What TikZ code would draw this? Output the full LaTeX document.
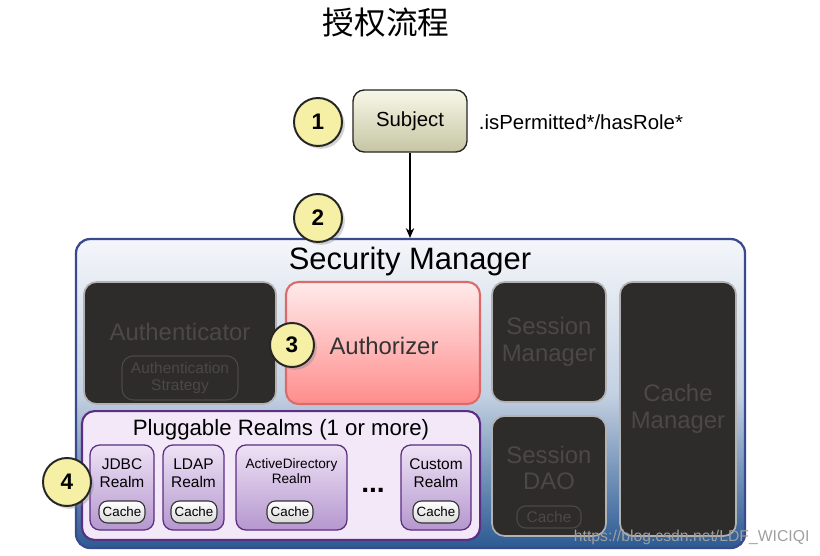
\documentclass[tikz,border=0pt]{standalone}
\usepackage{fontspec}
\setmainfont{Liberation Sans}
\newfontfamily\cjk{Noto Sans CJK SC}
\usetikzlibrary{positioning, shadows, arrows.meta}

\definecolor{smborder}{HTML}{3A4A8E}
\definecolor{smtop}{HTML}{F4F6FA}
\definecolor{smmid}{HTML}{C4D1E2}
\definecolor{smbot}{HTML}{2B5A92}
\definecolor{darkbox}{HTML}{2E2B2B}
\definecolor{dimtext}{HTML}{4C4848}
\definecolor{stepfill}{HTML}{F6F0A6}
\definecolor{realmborder}{HTML}{5B2D83}
\definecolor{realmback}{HTML}{F3E8F8}
\definecolor{realmtop}{HTML}{EEE2F5}
\definecolor{realmbot}{HTML}{B597CF}
\definecolor{azborder}{HTML}{DD6A6A}

\tikzset{
  stepnum/.style={circle, draw=black!85, line width=1.4pt, fill=stepfill,
    minimum size=1.2cm, inner sep=0pt, font=\fontsize{16}{16}\selectfont\bfseries,
    drop shadow={shadow xshift=2pt, shadow yshift=-2pt, opacity=0.35}},
  darkpart/.style={rounded corners=9pt, fill=darkbox, draw=gray!60, line width=1.2pt,
    text=dimtext, font=\fontsize{17}{19}\selectfont, align=center},
  realmbox/.style={rounded corners=7pt, draw=realmborder, line width=0.9pt,
    top color=realmtop, bottom color=realmbot, minimum height=2.125cm},
  cachepill/.style={rounded corners=6pt, draw=black!80, line width=0.8pt,
    top color=white, bottom color=gray!30, minimum width=1.15cm, minimum height=0.55cm,
    inner sep=0pt, font=\fontsize{9.5}{10}\selectfont},
  realmtext/.style={font=\fontsize{11}{12.5}\selectfont, align=center}
}

\begin{document}
\begin{tikzpicture}[x=0.025cm, y=-0.025cm]
  \useasboundingbox (0,0) rectangle (820,556);

  % title
  \node (title) at (386,23) {\cjk\fontsize{22.5}{22.5}\selectfont 授权流程};

  % subject and call
  \node[rounded corners=8pt, draw=black!85, line width=1pt, top color=white!60!olive!15,
    bottom color=olive!30!gray!45, minimum width=2.85cm, minimum height=1.55cm,
    font=\fontsize{14.5}{14.5}\selectfont] (subject) at (410,121) {Subject};
  \node[anchor=west, font=\fontsize{14.5}{14.5}\selectfont] (call) at (474,122) {.isPermitted*/hasRole*};
  \node[stepnum] (s1) at (318,122) {1};

  % security manager
  \node[rounded corners=10pt, draw=smborder, line width=1.6pt, top color=smtop,
    bottom color=smbot, middle color=smmid, minimum width=16.72cm, minimum height=7.72cm]
    (sm) at (410.5,393.5) {};
  \node[font=\fontsize{22}{22}\selectfont] (smtitle) at (410,262) {Security Manager};
  \node[stepnum] (s2) at (318,218) {2};

  \path[-{Stealth[length=7pt, width=6pt]}, line width=0.8pt]
    (subject) edge (sm.north -| subject);

  % components
  \node[darkpart, minimum width=4.8cm, minimum height=3.05cm] (authc) at (180,343) {};
  \node[text=dimtext, font=\fontsize{17}{17}\selectfont] (authctxt) at (180,332) {Authenticator};
  \node[rounded corners=8pt, draw=dimtext, line width=0.8pt, text=dimtext,
    minimum width=2.9cm, minimum height=1.1cm, align=center,
    font=\fontsize{11}{12}\selectfont] (strategy) at (180,378) {Authentication\\Strategy};

  \node[rounded corners=9pt, draw=azborder, line width=1.5pt, top color=red!8,
    bottom color=red!45!white, minimum width=4.85cm, minimum height=3.05cm] (authz) at (383,343) {};
  \node[font=\fontsize{17}{17}\selectfont, text=black!80] (authztxt) at (384,346) {Authorizer};
  \node[stepnum, minimum size=1.1cm] (s3) at (292,345) {3};

  \node[darkpart, minimum width=2.85cm, minimum height=3cm] (sessmgr) at (549,342) {Session\\Manager};
  \node[darkpart, minimum width=2.85cm, minimum height=3cm] (sessdao) at (549,476) {};
  \node[text=dimtext, font=\fontsize{17}{19}\selectfont, align=center] (daotxt) at (549,468) {Session\\DAO};
  \node[rounded corners=6pt, draw=dimtext, line width=0.8pt, text=dimtext,
    minimum width=1.6cm, minimum height=0.55cm, inner sep=0pt,
    font=\fontsize{11}{11}\selectfont] (daocache) at (549,517) {Cache};
  \node[darkpart, minimum width=2.9cm, minimum height=6.35cm] (cachemgr) at (678,409) {Cache\\Manager};

  % realms
  \node[rounded corners=9pt, draw=realmborder, line width=1.5pt, fill=realmback,
    minimum width=9.95cm, minimum height=3.22cm] (realms) at (281,475.5) {};
  \node[font=\fontsize{15.8}{15.8}\selectfont] (realmstitle) at (281,430) {Pluggable Realms (1 or more)};

  \node[realmbox, minimum width=1.6cm] (jdbc) at (122,487.5) {};
  \node[realmbox, minimum width=1.52cm] (ldap) at (193.5,487.5) {};
  \node[realmbox, minimum width=2.77cm] (ad) at (291.5,487.5) {};
  \node[realmbox, minimum width=1.75cm] (custom) at (436,487.5) {};

  \node[realmtext] (jdbctxt) at (122,473) {JDBC\\Realm};
  \node[realmtext] (ldaptxt) at (193.5,473) {LDAP\\Realm};
  \node[realmtext, font=\fontsize{9.7}{11}\selectfont] (adtxt) at (291.5,471) {ActiveDirectory\\Realm};
  \node[realmtext] (customtxt) at (436,473) {Custom\\Realm};

  \node[cachepill] (c1) at (122,512) {Cache};
  \node[cachepill] (c2) at (194,512) {Cache};
  \node[cachepill] (c3) at (290,512) {Cache};
  \node[cachepill] (c4) at (436,512) {Cache};

  \node[font=\fontsize{20}{20}\selectfont\bfseries] (more) at (373,490) {...};
  \node[stepnum, minimum size=1.2cm] (s4) at (67,482) {4};

  % watermark
  \node[anchor=west, text=gray!75, font=\fontsize{11.2}{11.2}\selectfont] (url) at (569,537)
    {https://blog.csdn.net/LDF\_WICIQI};
\end{tikzpicture}
\end{document}
